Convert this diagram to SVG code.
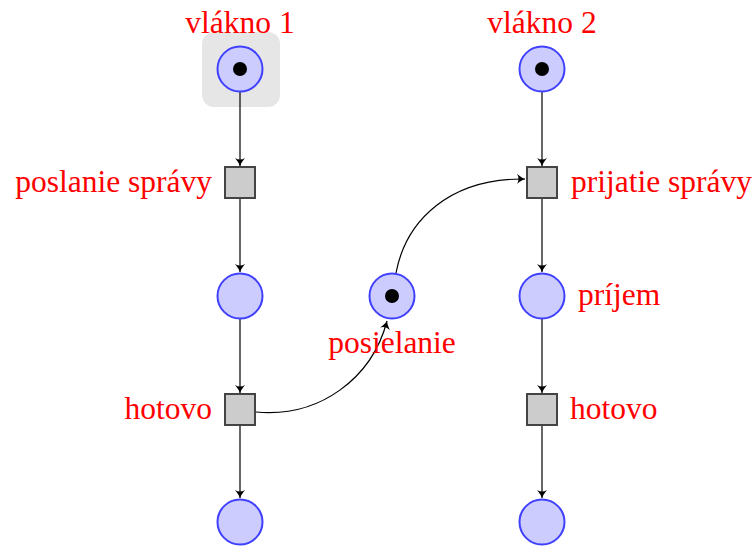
<svg xmlns="http://www.w3.org/2000/svg" width="756" height="547" viewBox="0 0 756 547">
  <style>
    .place { fill: #ccccff; stroke: #4040ff; stroke-width: 2; }
    .token { fill: #000; }
    .trans { fill: #cccccc; stroke: #444444; stroke-width: 2; }
    .lbl { font-family: "Liberation Serif", "Times New Roman", serif; font-size: 31.5px; fill: #ff0000; }
    .arc { fill: none; stroke: #000; stroke-width: 1.2; marker-end: url(#tip); }
  </style>
  <defs>
    <marker id="tip" viewBox="-10 -6 12 12" refX="0" refY="0" markerWidth="12" markerHeight="12" markerUnits="userSpaceOnUse" orient="auto">
      <path d="M-8,-5 Q-3,-1 0,0 Q-3,1 -8,5 Q-5,0 -8,-5 Z" fill="#000"/>
    </marker>
  </defs>

  <!-- highlight behind the initial place of thread 1 -->
  <rect x="202" y="32" width="78" height="75" rx="12" fill="#e6e6e6"/>

  <g id="connectors">
    <line class="arc" x1="240" y1="92" x2="240" y2="166"/>
    <line class="arc" x1="240" y1="199" x2="240" y2="272"/>
    <line class="arc" x1="240" y1="319" x2="240" y2="393"/>
    <line class="arc" x1="240" y1="426" x2="240" y2="498"/>
    <line class="arc" x1="542" y1="92" x2="542" y2="166"/>
    <line class="arc" x1="542" y1="199" x2="542" y2="272"/>
    <line class="arc" x1="542" y1="319" x2="542" y2="393"/>
    <line class="arc" x1="542" y1="426" x2="542" y2="498"/>
    <path class="arc" d="M256,412 C320,418 372,378 387,321"/>
    <path class="arc" d="M396,273 C406,220 450,178 525,179"/>
  </g>

  <g id="p-vlakno1">
    <circle class="place" cx="240" cy="69" r="22.5"/>
    <circle class="token" cx="240" cy="69" r="7"/>
    <text class="lbl" x="240" y="33" text-anchor="middle">vlákno 1</text>
  </g>
  <g id="t-poslanie">
    <rect class="trans" x="225" y="167" width="30" height="31"/>
    <text class="lbl" x="212" y="192" text-anchor="end">poslanie správy</text>
  </g>
  <g id="p-left-mid">
    <circle class="place" cx="240" cy="296" r="22.5"/>
  </g>
  <g id="t-hotovo-left">
    <rect class="trans" x="225" y="394" width="30" height="31"/>
    <text class="lbl" x="212" y="419" text-anchor="end">hotovo</text>
  </g>
  <g id="p-left-end">
    <circle class="place" cx="240" cy="522" r="22.5"/>
  </g>

  <g id="p-posielanie">
    <circle class="place" cx="392" cy="296" r="22.5"/>
    <circle class="token" cx="392" cy="296" r="7"/>
    <text class="lbl" x="392" y="353" text-anchor="middle">posielanie</text>
  </g>

  <g id="p-vlakno2">
    <circle class="place" cx="542" cy="69" r="22.5"/>
    <circle class="token" cx="542" cy="69" r="7"/>
    <text class="lbl" x="542" y="33" text-anchor="middle">vlákno 2</text>
  </g>
  <g id="t-prijatie">
    <rect class="trans" x="527" y="167" width="30" height="31"/>
    <text class="lbl" x="571" y="192">prijatie správy</text>
  </g>
  <g id="p-prijem">
    <circle class="place" cx="542" cy="296" r="22.5"/>
    <text class="lbl" x="578" y="305">príjem</text>
  </g>
  <g id="t-hotovo-right">
    <rect class="trans" x="527" y="394" width="30" height="31"/>
    <text class="lbl" x="570" y="419">hotovo</text>
  </g>
  <g id="p-right-end">
    <circle class="place" cx="542" cy="522" r="22.5"/>
  </g>
</svg>
